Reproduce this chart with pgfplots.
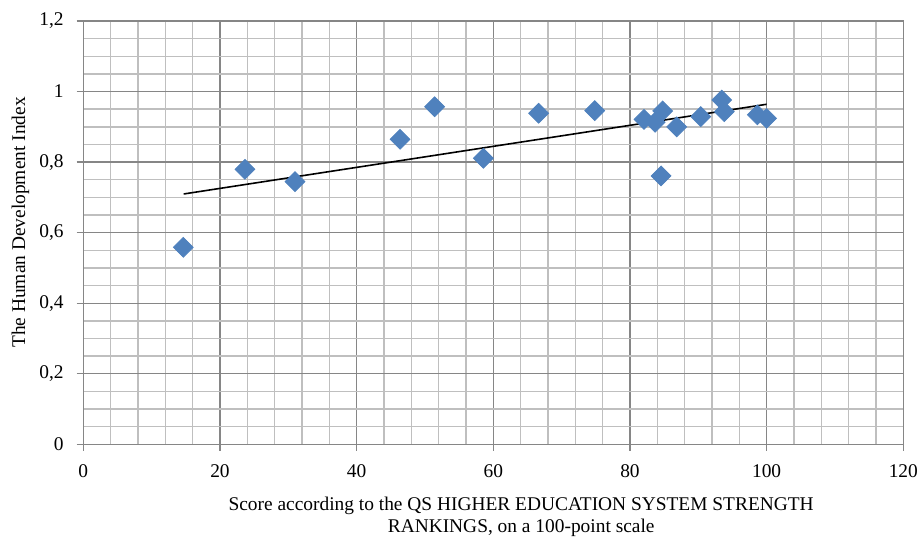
\documentclass[border=0pt]{standalone}
\usepackage{fontspec}
\setmainfont{Liberation Serif}
\usepackage{pgfplots}
\pgfplotsset{compat=1.18}
\definecolor{ptblue}{HTML}{4F81BD}
\definecolor{majgrid}{HTML}{868686}
\definecolor{mingrid}{HTML}{BFBFBF}
\begin{document}
\begin{tikzpicture}
\begin{axis}[
  at={(0,0)}, anchor=south west,
  scale only axis, width=410pt, height=211.65pt,
  xmin=0, xmax=120, ymin=0, ymax=1.2,
  xtick={0,20,...,120}, ytick={0,0.2,0.4,0.6,0.8,1,1.2},
  minor xtick={0,4,...,120},
  minor ytick={0,0.05,...,1.2},
  grid=both,
  major grid style={majgrid, line width=0.7pt},
  minor grid style={mingrid, line width=0.7pt},
  axis line style={majgrid, line width=0.7pt},
  tick style={majgrid, line width=0.7pt},
  major tick length=3.3pt, minor tick length=0pt,
  tick align=outside, xtick pos=bottom, ytick pos=left,
  tick label style={font=\fontsize{9.7}{11}\selectfont},
  /pgf/number format/assume math mode=true,
  /pgf/number format/use comma,
  xticklabel style={yshift=-3.2pt},
  yticklabel style={xshift=-3pt},
  ylabel={The Human Development Index},
  ylabel style={at={(axis description cs:-0.0766,0.524)}, anchor=center, rotate=0, font=\fontsize{9.7}{11}\selectfont},
  clip=false,
]
\addplot[only marks, mark=square*, mark size=3.5pt, mark options={rotate=45, fill=ptblue, draw=ptblue}] coordinates {
(14.63,0.5585) (23.66,0.7796) (30.98,0.7445) (46.35,0.8647) (51.42,0.957)
(58.54,0.8108) (66.64,0.9384) (74.84,0.9458) (82.06,0.921) (83.67,0.913)
(84.79,0.945) (84.55,0.7607) (86.84,0.900) (90.36,0.929) (93.43,0.976)
(93.81,0.943) (98.64,0.934) (100.0,0.924)
};
\addplot[black, line width=0.8pt, no marks] coordinates {(14.69,0.7096) (100.0,0.9639)};
\node[anchor=base, inner sep=0pt, font=\fontsize{9.7}{11}\selectfont] at ([yshift=-33.2pt]axis description cs:0.534,0) {Score according to the QS HIGHER EDUCATION SYSTEM STRENGTH};
\node[anchor=base, inner sep=0pt, font=\fontsize{9.7}{11}\selectfont] at ([yshift=-44pt]axis description cs:0.534,0) {RANKINGS, on a 100-point scale};
\end{axis}
\pgfresetboundingbox
\useasboundingbox (-41.65pt,-45.85pt) rectangle (418.85pt,222.15pt);
\end{tikzpicture}
\end{document}
